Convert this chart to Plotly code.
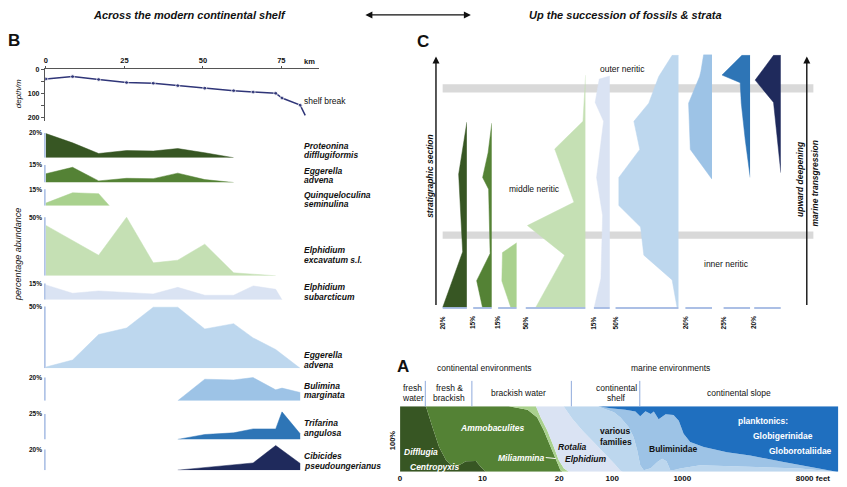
import plotly.graph_objects as go

W, H = 847, 487
FONT = "Liberation Sans, Arial, sans-serif"


def px(xp):
    return xp / W


def py(yp):
    return 1 - yp / H


# ---------------- Panel B: transect across the shelf ----------------
STATION_KM = [0, 8.5, 16.8, 25.7, 34.2, 42.0, 50.6, 59.8, 66.0, 73.2, 75.2, 81.0]
PROFILE_KM = STATION_KM + [82.6]
PROFILE_DEPTH_M = [40, 30, 42, 55, 58, 68, 79, 89, 95, 100, 120, 150, 193]
KM_TICKS = [0, 25, 50, 75]
DEPTH_TICKS = [0, 50, 100, 150, 200]
DEPTH_TICK_TEXT = ["0", "", "100", "", "200"]

SPECIES_LINE1 = ["Proteonina", "Eggerella", "Quinqueloculina", "Elphidium", "Elphidium",
                 "Eggerella", "Bulimina", "Trifarina", "Cibicides"]
SPECIES_LINE2 = ["difflugiformis", "advena", "seminulina", "excavatum s.l.", "subarcticum",
                 "advena", "marginata", "angulosa", "pseudoungerianus"]
SCALE_MAX_PCT = [20, 15, 15, 50, 15, 50, 20, 25, 20]
SPECIES_COLORS = ["#375623", "#548235", "#a9d18e", "#c5e0b4", "#dae3f3",
                  "#bdd7ee", "#9dc3e6", "#2e75b6", "#1f2a5c"]

# percentage abundance along the transect (km, %)
PROTEONINA_KM = STATION_KM[:8]
PROTEONINA_PCT = [19.5, 12, 3.4, 5.8, 5.4, 7.4, 4, 0]
EGGERELLA_SHALLOW_KM = STATION_KM[:8]
EGGERELLA_SHALLOW_PCT = [7.5, 13, 1.4, 3.6, 3.3, 8, 2.5, 0]
QUINQUELOCULINA_KM = [0, 8.5, 16.8, 20.2]
QUINQUELOCULINA_PCT = [2.3, 11.7, 10.9, 0]
EXCAVATUM_KM = STATION_KM[:10]
EXCAVATUM_PCT = [43, 30, 17.5, 50, 11, 13.3, 27, 2.5, 1.5, 0]
SUBARCTICUM_KM = STATION_KM[:11]
SUBARCTICUM_PCT = [13.6, 6, 8.1, 6.9, 5.4, 11.4, 4.2, 4.2, 12.7, 9.6, 0]
EGGERELLA_DEEP_KM = STATION_KM[:10] + [81.0]
EGGERELLA_DEEP_PCT = [1, 6.7, 27.3, 32.6, 49.4, 49.4, 31.8, 36.1, 24.6, 15.2, 0]
BULIMINA_KM = STATION_KM[5:]
BULIMINA_PCT = [0, 18.6, 18, 20, 9.4, 10.9, 7.1]
TRIFARINA_KM = STATION_KM[5:]
TRIFARINA_PCT = [0, 4.8, 6.4, 10.3, 10.3, 27, 5.5]
CIBICIDES_KM = [42.0, 66.0, 73.2, 81.0]
CIBICIDES_PCT = [0, 7, 24, 6.5]

B_SERIES_KM = [PROTEONINA_KM, EGGERELLA_SHALLOW_KM, QUINQUELOCULINA_KM, EXCAVATUM_KM,
               SUBARCTICUM_KM, EGGERELLA_DEEP_KM, BULIMINA_KM, TRIFARINA_KM, CIBICIDES_KM]
B_SERIES_PCT = [PROTEONINA_PCT, EGGERELLA_SHALLOW_PCT, QUINQUELOCULINA_PCT, EXCAVATUM_PCT,
                SUBARCTICUM_PCT, EGGERELLA_DEEP_PCT, BULIMINA_PCT, TRIFARINA_PCT, CIBICIDES_PCT]

# ---------------- Panel C: up-section abundance (height %, abundance %) ----------------
C_PROTEONINA_H = [0, 22, 52.7, 73.3]
C_PROTEONINA_PCT = [20, 3.5, 6.8, 0]
C_EGGERELLA_SHALLOW_H = [0, 10.6, 21.3, 46.8, 51.4, 61.2, 72.9]
C_EGGERELLA_SHALLOW_PCT = [7.5, 12.2, 1.4, 2.6, 7.4, 3, 0]
C_QUINQUELOCULINA_H = [0, 10.5, 21.7, 25.6]
C_QUINQUELOCULINA_PCT = [4.8, 12, 11.5, 0]
C_EXCAVATUM_H = [0, 20.7, 32.4, 41.6, 62.7, 73.6, 91.9]
C_EXCAVATUM_PCT = [41.7, 17.5, 48.6, 9.7, 25.8, 2.2, 0]
C_SUBARCTICUM_H = [0, 11.5, 36.4, 51.4, 73.6, 81.1, 90.3, 91.5]
C_SUBARCTICUM_PCT = [14.7, 8.4, 6.8, 12.5, 5.9, 13.8, 10, 0]
C_EGGERELLA_DEEP_H = [0, 10.9, 20.7, 31.8, 40.3, 51.4, 62.5, 73.6, 80.8, 91.3, 99.7, 99.7]
C_EGGERELLA_DEEP_PCT = [1.3, 5.2, 27.6, 30.2, 47.4, 47.4, 30.8, 35.5, 23.7, 15.8, 5.2, 0]
C_BULIMINA_H = [50.7, 62.5, 80.8, 91.3, 93.5, 100, 100]
C_BULIMINA_PCT = [0, 16.3, 17.6, 9.3, 8.3, 6.3, 0]
C_TRIFARINA_H = [51.4, 66.4, 80.8, 88.9, 91.9, 99.7, 99.7]
C_TRIFARINA_PCT = [0, 4.7, 8.4, 9.4, 26.5, 7.8, 0]
C_CIBICIDES_H = [53.3, 81.1, 89.9, 99.7, 99.7]
C_CIBICIDES_PCT = [0, 5.5, 19.3, 5.5, 0]

C_SERIES_H = [C_PROTEONINA_H, C_EGGERELLA_SHALLOW_H, C_QUINQUELOCULINA_H, C_EXCAVATUM_H,
              C_SUBARCTICUM_H, C_EGGERELLA_DEEP_H, C_BULIMINA_H, C_TRIFARINA_H, C_CIBICIDES_H]
C_SERIES_PCT = [C_PROTEONINA_PCT, C_EGGERELLA_SHALLOW_PCT, C_QUINQUELOCULINA_PCT, C_EXCAVATUM_PCT,
                C_SUBARCTICUM_PCT, C_EGGERELLA_DEEP_PCT, C_BULIMINA_PCT, C_TRIFARINA_PCT,
                C_CIBICIDES_PCT]
C_ZONE_LABELS = ["outer neritic", "middle neritic", "inner neritic"]

# ---------------- Panel A: assemblages vs water depth (cumulative tops, %) ----------------
A_TICK_POS = [0, 18.8, 36.3, 48.4, 64.4, 94.2]
A_TICK_TEXT = ["0", "10", "20", "100", "1000", "8000 feet"]
A_DIFFLUGIA_X = [0, 5.9, 7.4, 8.9, 10.5, 12.0, 13.9, 15.0, 17.3, 18.4, 19.6, 100]
A_DIFFLUGIA_TOP = [100, 100, 68, 38, 17.7, 8.6, 11.6, 16, 16.5, 7.6, 0, 0]
A_AMMOBACULITES_X = [0, 24.8, 29.1, 31.3, 32.8, 34.4, 35.5, 36.6, 37.1, 100]
A_AMMOBACULITES_TOP = [100, 100, 95, 83, 63, 38, 18, 2.5, 0, 0]
A_MILIAMMINA_X = [0, 31.0, 32.1, 33.6, 35.1, 36.2, 37.4, 38.5, 100]
A_MILIAMMINA_TOP = [100, 100, 83, 63, 38, 18, 5, 0, 0]
A_ROTALIA_X = [0, 37.3, 39.3, 41.6, 44.2, 46.4, 48.8, 50.3, 50.8, 100]
A_ROTALIA_TOP = [100, 100, 81, 63, 45, 30, 13, 1.5, 0, 0]
A_VARIOUS_X = [0, 45.0, 48.8, 50.3, 52.2, 53.3, 54.1, 54.8, 55.6, 57.2, 58.7, 59.8, 60.8,
               61.7, 62.8, 63.9, 68.5, 79.9, 91.3, 99.6, 100]
A_VARIOUS_TOP = [100, 100, 91, 83, 68, 53, 33, 10, 2.5, 5.6, 15, 20, 16, 2, 3, 5, 10, 7.5,
                 5, 0, 0]
A_BULIMINIDAE_X = [0, 45.3, 48.0, 51.4, 53.7, 54.8, 56.0, 57.2, 57.9, 59.0, 60.6, 62.4, 63.6,
                   64.7, 66.2, 69.3, 74.6, 79.9, 87.5, 95.1, 99.6, 100]
A_BULIMINIDAE_TOP = [100, 100, 97, 95, 92, 85, 92.5, 88.5, 92, 80.5, 88, 87, 78, 58, 45.5, 38,
                     30, 25, 15, 5, 0, 0]
A_PLANKTONIC_X = [0, 100]
A_PLANKTONIC_TOP = [100, 100]

A_LAYERS_X = [A_DIFFLUGIA_X, A_AMMOBACULITES_X, A_MILIAMMINA_X, A_ROTALIA_X, A_VARIOUS_X,
              A_BULIMINIDAE_X, A_PLANKTONIC_X]
A_LAYERS_TOP = [A_DIFFLUGIA_TOP, A_AMMOBACULITES_TOP, A_MILIAMMINA_TOP, A_ROTALIA_TOP,
                A_VARIOUS_TOP, A_BULIMINIDAE_TOP, A_PLANKTONIC_TOP]
A_LAYER_COLORS = ["#375623", "#548235", "#a9d18e", "#dae3f3", "#bdd7ee", "#9dc3e6", "#1f6fbf"]

# ---------------- layout geometry (pixels) ----------------
B_X_PX = (43, 318)
B_KM_RANGE = [(43 - 44) / 3.147, (318 - 44) / 3.147]
B_PROFILE_PX = (66, 118)
B_BASE_PX = [155, 180, 203.3, 274, 298.3, 367.3, 400, 439, 470]
B_TOP_PX = [130, 162.3, 186.7, 215, 281.7, 305, 376.7, 413.3, 449.3]
B_NAME_Y1 = [142.7, 168.3, 192.3, 248.3, 285.7, 354.3, 385, 422.7, 456]
C_RIGHT_PX = [466, 491, 516, 585, 609.3, 678.3, 711.7, 750, 780.7]
C_LEFT_PX = [441.7, 472.3, 497.3, 525, 593.3, 615, 685, 723.3, 754]
C_Y_PX = (306, 51)
A_X_PX = (399, 838.3)
A_Y_PX = (471.7, 405.7)

fig = go.Figure()
layout = dict(width=W, height=H, margin=dict(l=0, r=0, t=0, b=0),
              paper_bgcolor="white", plot_bgcolor="rgba(0,0,0,0)", showlegend=False,
              font=dict(family=FONT, color="#111"))
hidden = dict(visible=False, showgrid=False, zeroline=False, fixedrange=True)
annotations = []
shapes = []


def label(xp, yp, s, size=8.5, bold=False, italic=False, color="#111",
          xanchor="center", yanchor="middle", angle=0):
    if bold:
        s = f"<b>{s}</b>"
    if italic:
        s = f"<i>{s}</i>"
    annotations.append(dict(x=px(xp), y=py(yp), xref="paper", yref="paper", text=s,
                            showarrow=False, xanchor=xanchor, yanchor=yanchor,
                            textangle=angle, borderpad=0,
                            font=dict(family=FONT, size=size, color=color)))


# --- B: depth profile (axis 1) ---
fig.add_trace(go.Scatter(
    x=PROFILE_KM, y=PROFILE_DEPTH_M, mode="lines+markers", xaxis="x", yaxis="y",
    line=dict(color="#2f3578", width=1.5),
    marker=dict(size=[4] * (len(PROFILE_KM) - 1) + [0], color="#2f3578"),
    hoverinfo="skip"))
layout["xaxis"] = dict(domain=[px(B_X_PX[0]), px(B_X_PX[1])], range=B_KM_RANGE, side="top",
                       anchor="y", showline=True, linecolor="#555", linewidth=1,
                       ticks="outside", ticklen=2, tickcolor="#555",
                       tickvals=KM_TICKS, ticktext=[f"<b>{t}</b>" for t in KM_TICKS],
                       tickfont=dict(size=7.5, color="#111"), showgrid=False, zeroline=False)
prof_range = (B_PROFILE_PX[1] - B_PROFILE_PX[0]) / 0.24
layout["yaxis"] = dict(domain=[py(B_PROFILE_PX[1]), py(B_PROFILE_PX[0])], range=[prof_range, 0],
                       anchor="x", showline=True, linecolor="#555", linewidth=1,
                       ticks="outside", ticklen=3, tickcolor="#555",
                       tickvals=DEPTH_TICKS,
                       ticktext=[f"<b>{t}</b>" if t else "" for t in DEPTH_TICK_TEXT],
                       tickfont=dict(size=7, color="#111"), showgrid=False, zeroline=False)
label(308, 58, "km", size=7.5, bold=True)
label(302, 98, "shelf break", size=8.5, xanchor="left")
label(16, 90, "depth/m", size=8, italic=True, angle=-90)
label(16, 252, "percentage abundance", size=9, italic=True, angle=-90)

# --- B: abundance strips (axes 2..10) ---
for i in range(9):
    n = i + 2
    base, top, smax = B_BASE_PX[i], B_TOP_PX[i], SCALE_MAX_PCT[i]
    head = 7
    rng = smax * (base - top + head) / (base - top)
    layout[f"xaxis{n}"] = dict(domain=[px(B_X_PX[0]), px(B_X_PX[1])], range=B_KM_RANGE,
                               anchor=f"y{n}", **hidden)
    layout[f"yaxis{n}"] = dict(domain=[py(base), py(top - head)], range=[0, rng],
                               anchor=f"x{n}", **hidden)
    fig.add_trace(go.Scatter(x=B_SERIES_KM[i], y=B_SERIES_PCT[i], xaxis=f"x{n}", yaxis=f"y{n}",
                             mode="lines", fill="tozeroy", fillcolor=SPECIES_COLORS[i],
                             line=dict(color=SPECIES_COLORS[i], width=0.5), hoverinfo="skip"))
    shapes.append(dict(type="line", xref="paper", yref=f"y{n}", x0=px(43), x1=px(43),
                       y0=0, y1=smax, line=dict(color="#8faadc", width=1.2)))
    label(41, top, f"{smax}%", size=6.5, bold=True, xanchor="right")
    label(302, B_NAME_Y1[i], SPECIES_LINE1[i], size=8.5, bold=True, italic=True, xanchor="left")
    label(302, B_NAME_Y1[i] + 9.5, SPECIES_LINE2[i], size=8.5, bold=True, italic=True,
          xanchor="left")

# --- C: stratigraphic columns (axes 11..19, shared y11) ---
layout["yaxis11"] = dict(domain=[py(C_Y_PX[0]), py(C_Y_PX[1])], range=[0, 100],
                         anchor="x11", **hidden)
for band in [(81, 89.3), (229.3, 236.7)]:
    shapes.append(dict(type="rect", xref="paper", yref="paper", x0=px(441.7), x1=px(813.3),
                       y0=py(band[1]), y1=py(band[0]), fillcolor="#d9d9d9",
                       line=dict(width=0), layer="below"))
for i in range(9):
    n = i + 11
    smax = SCALE_MAX_PCT[i]
    right, left = C_RIGHT_PX[i], C_LEFT_PX[i]
    ext = 1.15
    width = (right - left) * ext
    layout[f"xaxis{n}"] = dict(domain=[px(right - width), px(right)], range=[smax * ext, 0],
                               anchor="y11", **hidden)
    fig.add_trace(go.Scatter(x=C_SERIES_PCT[i], y=C_SERIES_H[i], xaxis=f"x{n}", yaxis="y11",
                             mode="lines", fill="tozerox", fillcolor=SPECIES_COLORS[i],
                             line=dict(color=SPECIES_COLORS[i], width=0.5), hoverinfo="skip"))
    shapes.append(dict(type="line", xref=f"x{n}", yref="paper", x0=smax, x1=0,
                       y0=py(306.5), y1=py(306.5), line=dict(color="#8faadc", width=1.5)))
    annotations.append(dict(x=smax, y=py(321.5), xref=f"x{n}", yref="paper",
                            text=f"<b>{smax}%</b>", showarrow=False, textangle=-90,
                            xanchor="center", yanchor="middle", borderpad=0,
                            font=dict(family=FONT, size=6.5, color="#111")))
label(622.3, 66, C_ZONE_LABELS[0], size=8.5)
label(534, 186.7, C_ZONE_LABELS[1], size=8.5)
label(726.7, 261.7, C_ZONE_LABELS[2], size=8.5)
label(428.3, 173, "stratigraphic section", size=8.5, italic=True, bold=True, angle=-90)
label(800, 137, "upward deepening", size=8.5, italic=True, bold=True, angle=-90, yanchor="top")
label(814.5, 137, "marine transgression", size=8.5, italic=True, bold=True, angle=-90,
      yanchor="top")
for xa in (435, 806.7):
    annotations.append(dict(x=px(xa), y=py(53), xref="paper", yref="paper", text="",
                            showarrow=True, ax=0, ay=250, axref="pixel", ayref="pixel",
                            arrowhead=2, arrowsize=1, arrowwidth=1.4, arrowcolor="#111"))

# --- A: stacked assemblages (axis 20) ---
layout["xaxis20"] = dict(domain=[px(A_X_PX[0]), px(A_X_PX[1])], range=[0, 100], anchor="y20",
                         showgrid=False, zeroline=False, showline=False, ticks="",
                         tickvals=A_TICK_POS, ticktext=[f"<b>{t}</b>" for t in A_TICK_TEXT],
                         tickfont=dict(size=8, color="#111"))
layout["yaxis20"] = dict(domain=[py(A_Y_PX[0]), py(A_Y_PX[1])], range=[0, 100],
                         anchor="x20", **hidden)
fig.add_trace(go.Scatter(x=[0, 100], y=[0, 0], xaxis="x20", yaxis="y20", mode="lines",
                         line=dict(width=0), hoverinfo="skip"))
for xs, tops, col in zip(A_LAYERS_X, A_LAYERS_TOP, A_LAYER_COLORS):
    fig.add_trace(go.Scatter(x=xs, y=tops, xaxis="x20", yaxis="y20", mode="lines",
                             fill="tonexty", fillcolor=col, line=dict(width=0, color=col),
                             hoverinfo="skip"))

label(484, 366.7, "continental environments", size=8.5)
label(670, 366.7, "marine environments", size=8.5)
label(411.7, 387.3, "fresh", size=8.5)
label(411.7, 397.3, "water", size=8.5)
label(448.3, 387.3, "fresh &", size=8.5)
label(448.3, 397.3, "brackish", size=8.5)
label(517.7, 392.3, "brackish water", size=8.5)
label(616, 387.3, "continental", size=8.5)
label(616, 397.3, "shelf", size=8.5)
label(738.3, 392.3, "continental slope", size=8.5)
for xs, y0 in [(424.3, 380), (471, 380), (570.7, 380), (639.3, 380)]:
    shapes.append(dict(type="line", xref="paper", yref="paper", x0=px(xs), x1=px(xs),
                       y0=py(y0), y1=py(405.7), line=dict(color="#8faadc", width=1)))
label(391.7, 440, "100%", size=7.5, bold=True, angle=-90)

label(419.5, 451.7, "Difflugia", size=8.5, bold=True, italic=True, color="white")
label(434, 466.7, "Centropyxis", size=8.5, bold=True, italic=True, color="white")
label(491.8, 427.3, "Ammobaculites", size=8.5, bold=True, italic=True, color="white")
label(520.8, 457.3, "Miliammina", size=8.5, bold=True, italic=True, color="white")
shapes.append(dict(type="line", xref="paper", yref="paper", x0=px(545), x1=px(555),
                   y0=py(457.3), y1=py(458.3), line=dict(color="white", width=1)))
label(572, 446.7, "Rotalia", size=8.5, bold=True, italic=True)
label(585, 459, "Elphidium", size=8.5, bold=True, italic=True)
label(615, 430.7, "various", size=8.5, bold=True)
label(615, 441.7, "families", size=8.5, bold=True)
label(672.3, 448.3, "Buliminidae", size=8.5, bold=True)
label(762.5, 420, "planktonics:", size=8.5, bold=True, color="white")
label(783, 435.7, "Globigerinidae", size=8.5, bold=True, color="white")
label(800.7, 450.7, "Globorotaliidae", size=8.5, bold=True, color="white")

# --- titles and panel letters ---
label(188, 11, "Across the modern continental shelf", size=11, bold=True, italic=True)
label(625, 11, "Up the succession of fossils & strata", size=11, bold=True, italic=True)
annotations.append(dict(x=px(470), y=py(11), xref="paper", yref="paper", text="",
                        showarrow=True, ax=-107, ay=0, axref="pixel", ayref="pixel",
                        arrowhead=2, arrowside="end+start", arrowsize=1, arrowwidth=1.4,
                        arrowcolor="#111"))
label(12, 37, "B", size=17, bold=True)
label(422, 38, "C", size=17, bold=True)
label(401.7, 366, "A", size=17, bold=True)

layout["annotations"] = annotations
layout["shapes"] = shapes
fig.update_layout(**layout)
fig.write_html("out.html")
